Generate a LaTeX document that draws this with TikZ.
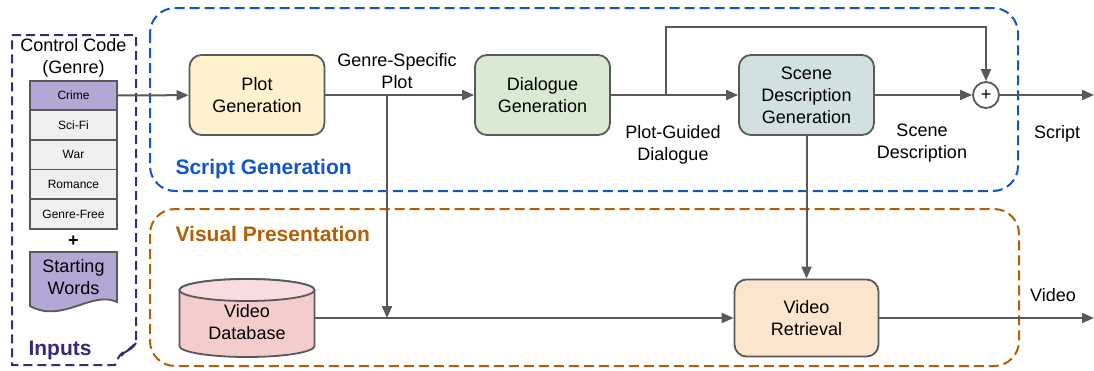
\documentclass[tikz,border=0pt]{standalone}
\usepackage{fontspec}
\setmainfont{Liberation Sans}
\usetikzlibrary{arrows.meta,positioning}
\definecolor{linegray}{HTML}{595959}
\definecolor{inputpurple}{HTML}{3B2878}
\definecolor{genrepurple}{HTML}{B4A7D6}
\definecolor{genregray}{HTML}{EFEFEF}
\definecolor{scriptblue}{HTML}{1155CC}
\definecolor{visualorange}{HTML}{B45F06}
\definecolor{plotyellow}{HTML}{FFF2CC}
\definecolor{dialgreen}{HTML}{D9EAD3}
\definecolor{scenecyan}{HTML}{D0E0E3}
\definecolor{dbpink}{HTML}{F4CCCC}
\definecolor{dbtop}{HTML}{F8DCDF}
\definecolor{retpeach}{HTML}{FCE5CD}
\begin{document}
\begin{tikzpicture}[x=1pt, y=-1pt,
    box/.style={draw=linegray, line width=1.8pt, rounded corners=12pt, minimum width=135pt, minimum height=80pt, align=center, font=\fontsize{18}{22}\selectfont},
    genre/.style={draw=linegray, line width=1.8pt, fill=genregray, minimum width=87pt, minimum height=29.6pt, inner sep=0pt, outer sep=0pt, font=\fontsize{12}{14}\selectfont},
    flow/.style={draw=linegray, line width=2pt, -{Triangle[length=12pt,width=10pt]}},
    lbl/.style={align=center, font=\fontsize{18}{22}\selectfont},
    title/.style={anchor=west, font=\bfseries\fontsize{21}{21}\selectfont},
    area/.style={line width=2pt, dash pattern=on 10pt off 5pt, rounded corners=25pt}]
    \useasboundingbox (0,0) rectangle (1094,370);

    % inputs
    \draw[draw=inputpurple, line width=2pt, dash pattern=on 9pt off 5pt] (12,35) -- (136,35) -- (136,343) -- (128,350) .. controls (120,352) and (118,358) .. (115,365) -- (12,365) -- cycle;
    \draw[draw=inputpurple, line width=2pt] (136,343) .. controls (130,352) and (125,350) .. (121,356);
    \node[lbl] (ctrl) at (73.5,58) {Control Code\\(Genre)};
    \node[genre, fill=genrepurple] (crime) at (73.5,95.5) {Crime};
    \node[genre, below=0pt of crime] (scifi) {Sci-Fi};
    \node[genre, below=0pt of scifi] (war) {War};
    \node[genre, below=0pt of war] (romance) {Romance};
    \node[genre, below=0pt of romance] (free) {Genre-Free};
    \node[font=\bfseries\fontsize{18}{18}\selectfont] (and) at (73.5,241) {+};
    \draw[draw=linegray, line width=1.8pt, fill=genrepurple] (30,252) -- (117,252) -- (117,302) .. controls (92,290) and (62,324) .. (30,306) -- cycle;
    \node[lbl] (start) at (73.5,277) {Starting\\Words};
    \node[title, text=inputpurple] (inputs) at (25,350) {Inputs};

    % groups
    \draw[area, draw=scriptblue] (150,8) rectangle (1018,191);
    \draw[area, draw=visualorange] (150,209) rectangle (1019,366);
    \node[title, text=scriptblue] (sgtitle) at (172,169) {Script Generation};
    \node[title, text=visualorange] (vptitle) at (172,234) {Visual Presentation};

    % script generation
    \node[box, fill=plotyellow] (plotgen) at (257,95) {Plot\\Generation};
    \node[box, fill=dialgreen] (dialgen) at (542.5,95) {Dialogue\\Generation};
    \node[box, fill=scenecyan] (scenegen) at (806.5,95) {Scene\\Description\\Generation};
    \node[circle, draw=linegray, line width=1.8pt, fill=white, minimum size=26pt, inner sep=0pt, font=\fontsize{18}{18}\selectfont] (sum) at (986,95) {+};
    \coordinate (gsp) at (387,95);
    \coordinate (gspdb) at (387,318);
    \coordinate (pgd) at (666,95);
    \coordinate (bypass) at (666,27);
    \coordinate (scriptout) at (1094,95);

    \node[lbl] (gsplbl) at (397,71) {Genre-Specific\\Plot};
    \node[lbl] (pgdlbl) at (673,145) {Plot-Guided\\Dialogue};
    \node[lbl] (sdlbl) at (922,143) {Scene\\Description};
    \node[lbl] (scriptlbl) at (1057,134) {Script};

    % visual presentation
    \node[minimum width=135pt, minimum height=79pt, align=center] (viddb) at (247,318) {};
    \draw[draw=linegray, line width=1.8pt, fill=dbpink] (179.5,290) -- (179.5,346) arc[start angle=180, end angle=360, x radius=67.5pt, y radius=11pt] -- (314.5,290) arc[start angle=0, end angle=180, x radius=67.5pt, y radius=11pt] -- cycle;
    \draw[draw=linegray, line width=1.8pt, fill=dbtop] (247,290) ellipse [x radius=67.5pt, y radius=11pt];
    \node[lbl] (dbtext) at (247,322) {Video\\Database};
    \node[box, fill=retpeach, minimum width=144pt, minimum height=77pt] (vidret) at (806.5,318) {Video\\Retrieval};
    \coordinate (videoout) at (1094,318);
    \node[lbl] (videolbl) at (1053,295) {Video};

    % connectors
    \draw[flow] (crime) -- (plotgen);
    \draw[flow] (plotgen) -- (dialgen);
    \draw[flow] (gsp) -- (gspdb);
    \draw[flow] (dialgen) -- (scenegen);
    \draw[flow] (pgd) -- (bypass) -| (sum);
    \draw[flow] (scenegen) -- (sum);
    \draw[flow] (sum) -- (scriptout);
    \draw[flow] (scenegen) -- (vidret);
    \draw[flow] (viddb.east) -- (vidret);
    \draw[flow] (vidret) -- (videoout);
\end{tikzpicture}
\end{document}
